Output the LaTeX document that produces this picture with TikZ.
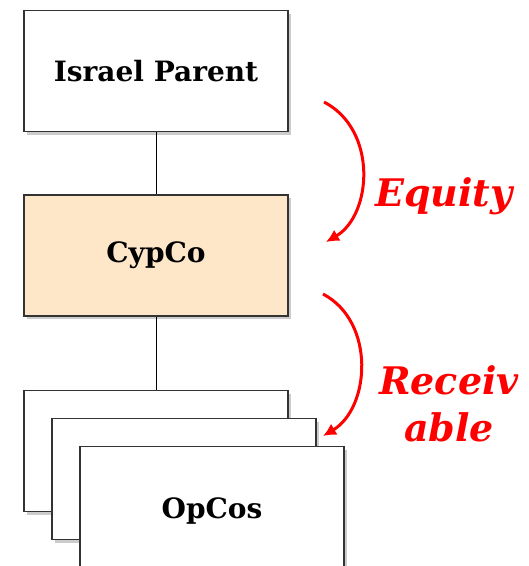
\documentclass[tikz,border=0pt]{standalone}
\usepackage{fontspec}
\setmainfont{DejaVu Serif}
\usetikzlibrary{shadows,arrows.meta}
\definecolor{peach}{HTML}{FDE7C8}
\definecolor{boxline}{HTML}{333333}
\tikzset{
  orgbox/.style={draw=boxline, line width=1.8pt, fill=white, minimum width=264pt, minimum height=121pt,
    inner sep=0pt, font=\bfseries\fontsize{28}{30}\selectfont,
    drop shadow={shadow xshift=3pt, shadow yshift=-3pt, opacity=0.4, fill=gray}},
  boxtext/.style={font=\bfseries\fontsize{28}{30}\selectfont, inner sep=0pt, anchor=base},
  link/.style={line width=1pt, black},
  flow/.style={red, line width=3pt, -{Latex[length=13pt,width=13pt]}},
  flowlabel/.style={red, font=\bfseries\itshape\fontsize{38}{47}\selectfont, align=center}
}
\begin{document}
\begin{tikzpicture}[x=1pt,y=-1pt]
\useasboundingbox (0,0) rectangle (529,566);
\clip (0,0) rectangle (529,566);
\node[orgbox] (parent) at (156,71) {Israel Parent};
\node[orgbox, fill=peach] (cypco) at (156,255.5) {CypCo};
\node[orgbox] (op1) at (156,451) {};
\node[orgbox] (op2) at (184,479) {};
\node[orgbox] (op3) at (212,507) {};
\node[boxtext] (opcos) at (212,518) {OpCos};
\draw[link] (parent.south) -- (cypco.north);
\draw[link] (cypco.south) -- (op1.north);
\coordinate (e1) at (324,102);
\coordinate (e2) at (326,242);
\coordinate (r1) at (323,294);
\coordinate (r2) at (323,436);
\draw[flow] (e1) .. controls (378,130) and (372,215) .. (e2);
\draw[flow] (r1) .. controls (376,322) and (370,408) .. (r2);
\node[flowlabel] (eq) at (444,196) {Equity};
\node[flowlabel, inner sep=0pt] (rec) at (449,404) {Receiv\\able};
\end{tikzpicture}
\end{document}
